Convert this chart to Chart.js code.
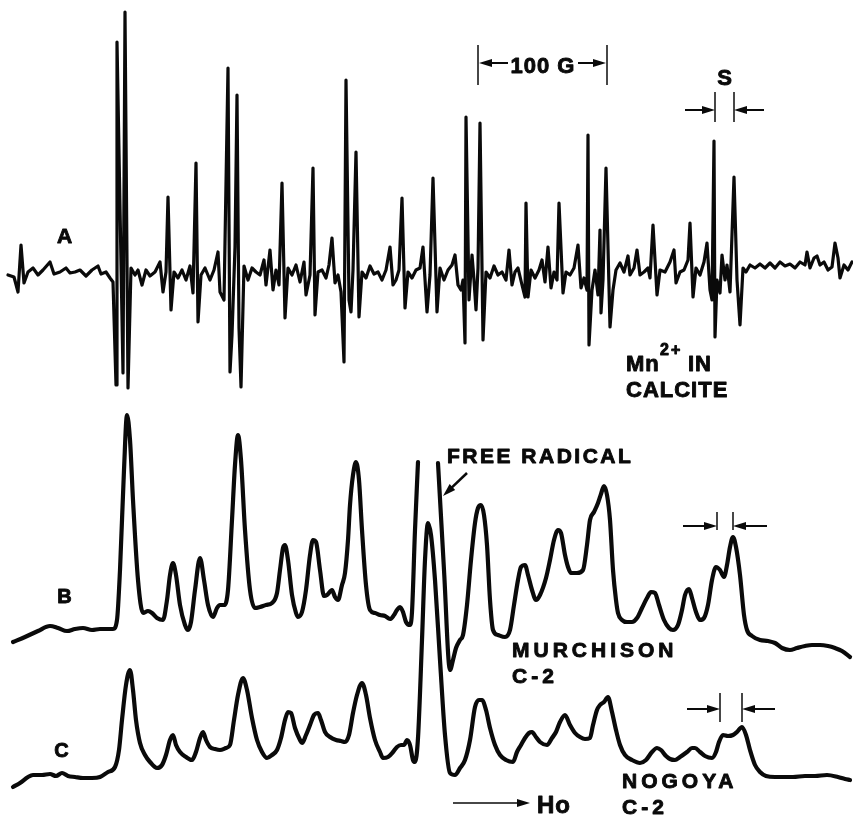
<!DOCTYPE html>
<html>
<head>
<meta charset="utf-8">
<title>EPR spectra</title>
<script src="https://cdn.jsdelivr.net/npm/chart.js@4.4.1/dist/chart.umd.min.js"></script>
<style>
  html, body { margin: 0; padding: 0; background: #fff; }
  #wrap { width: 853px; height: 816px; }
</style>
</head>
<body>
<div id="wrap"><canvas id="epr" width="853" height="816"></canvas></div>
<script>
// Field position (arbitrary units, increasing Ho) and first-derivative signal for each spectrum
const traceA = [ // Mn2+ in calcite
  [8,-3],[14,-5],[18,-20],[21,27],[24,-11],[28,0],[33,4],[38,-3],[43,2],[50,10],
  [54,-2],[60,0],[66,4],[70,-1],[75,0],[80,2],[86,-4],[92,2],[98,6],[101,-2],
  [106,0],[110,-6],[113,-10],[116,-113],[117,230],[123,-101],[125,260],[128,-116],[131,4],[135,-3],
  [138,2],[142,-13],[146,2],[150,-4],[155,0],[160,10],[163,-20],[166,0],[168,75],[171,-38],
  [174,0],[178,-6],[182,2],[186,-8],[190,6],[193,-21],[196,109],[198,-50],[201,-3],[205,4],
  [210,-8],[214,2],[218,20],[220,-20],[224,-28],[228,204],[230,-100],[232,-63],[235,25],[237,177],
  [239,-56],[241,-115],[244,6],[248,-8],[252,4],[256,0],[260,-3],[264,12],[266,-13],[270,22],
  [273,-18],[276,2],[279,-13],[282,89],[285,-46],[288,4],[292,-3],[296,7],[300,-10],[304,10],
  [306,-23],[310,-3],[313,104],[315,-43],[318,0],[322,2],[326,-6],[329,7],[332,34],[335,-11],
  [338,-3],[341,-20],[344,-90],[346,192],[349,-28],[351,-40],[353,2],[356,120],[359,-45],[362,0],
  [366,-6],[370,6],[374,-2],[378,0],[382,-8],[386,2],[390,25],[393,-13],[396,-8],[399,2],
  [402,74],[405,-36],[408,0],[412,-6],[416,2],[420,4],[423,25],[427,-40],[430,-3],[433,94],
  [437,-40],[440,4],[444,-8],[448,2],[452,7],[455,17],[458,-13],[461,-18],[463,-8],[465,-71],
  [466,155],[469,-28],[472,17],[474,-8],[476,-38],[478,4],[480,149],[483,-68],[486,0],[490,-6],
  [494,6],[498,-3],[502,0],[506,-8],[509,22],[512,-13],[515,0],[518,4],[522,-13],[525,-25],
  [526,69],[528,-25],[531,2],[535,-6],[539,2],[542,12],[545,-10],[548,25],[551,-16],[554,0],
  [557,-8],[559,69],[563,-21],[566,0],[570,-3],[574,4],[578,27],[581,-16],[584,-6],[587,-18],
  [588,137],[589,-73],[592,-18],[595,2],[598,-23],[600,42],[601,-41],[603,-8],[606,104],[610,-55],
  [613,-18],[616,2],[620,9],[624,0],[628,16],[630,-3],[634,4],[637,22],[640,-3],[644,0],
  [648,4],[650,-6],[653,47],[657,-23],[660,2],[665,0],[670,10],[674,22],[676,-11],[680,0],
  [684,2],[688,12],[690,49],[693,-25],[696,4],[700,-3],[704,10],[707,29],[710,-18],[712,-28],
  [714,131],[715,-65],[717,-8],[720,-21],[722,17],[725,-8],[727,7],[730,-20],[734,95],[737,-8],
  [740,-53],[743,4],[746,0],[750,7],[755,4],[760,8],[765,4],[770,9],[775,4],[780,10],
  [785,6],[790,8],[795,4],[800,10],[805,7],[807,20],[810,4],[814,14],[817,16],[820,7],
  [824,10],[828,2],[832,5],[835,29],[838,14],[840,-6],[844,7],[848,2],[852,10]
];

const traceB = [ // Murchison C-2
  [13,-12],[25,-7],[38,-1],[50,4],[58,2],[67,-1],[75,1],[83,2],[92,0],[100,1],
  [113,1],[117,10],[120,60],[124,160],[127,215],[130,190],[133,130],[138,50],[143,17],[148,19],
  [152,17],[157,12],[163,10],[167,30],[170,55],[173,67],[176,55],[180,25],[185,5],[188,0],
  [191,8],[195,40],[200,72],[204,50],[208,25],[213,13],[217,22],[220,25],[224,25],[228,40],
  [232,110],[235,165],[238,195],[241,170],[245,100],[250,40],[255,22],[260,23],[266,25],[272,27],
  [277,37],[280,60],[283,82],[285,85],[288,70],[292,35],[296,17],[298,13],[302,18],[306,40],
  [310,75],[313,90],[316,88],[320,60],[324,34],[327,35],[332,40],[335,33],[338,30],[342,45],
  [345,57],[348,90],[350,125],[353,155],[356,168],[359,150],[362,100],[366,45],[370,20],[375,17],
  [380,15],[385,14],[390,11],[394,15],[397,20],[400,23],[403,18],[406,8],[410,5],[412,18],
  [415,100],[418,168],[428,null],[438,167],[444,60],[450,-40],[453,-30],[456,-18],[460,-10],[463,-5],
  [467,25],[471,70],[475,107],[478,122],[481,125],[484,115],[487,85],[490,30],[493,0],[498,-5],
  [505,-7],[510,0],[514,25],[518,50],[521,63],[525,65],[528,55],[532,40],[536,30],[540,35],
  [546,52],[550,70],[554,90],[558,100],[561,97],[565,75],[568,63],[571,57],[577,57],[583,60],
  [587,85],[590,110],[594,118],[598,127],[601,136],[604,144],[607,135],[610,110],[613,60],[616,30],
  [618,17],[622,10],[627,8],[632,8],[637,12],[642,22],[647,32],[651,38],[655,37],[659,25],
  [664,10],[669,2],[673,0],[678,5],[682,20],[685,35],[689,41],[692,32],[696,18],[700,10],
  [704,12],[708,25],[712,50],[716,63],[720,60],[724,53],[727,65],[730,83],[733,93],[736,83],
  [740,55],[744,15],[747,0],[752,-6],[760,-10],[768,-11],[775,-13],[782,-18],[790,-20],[797,-18],
  [805,-16],[812,-15],[820,-15],[828,-16],[835,-18],[842,-21],[850,-27]
];

const traceC = [ // Nogoya C-2
  [13,-12],[20,-8],[28,-2],[33,0],[42,0],[50,1],[56,-1],[62,2],[68,-1],[75,-2],
  [83,-3],[92,-3],[100,-2],[108,3],[115,8],[119,25],[122,55],[126,90],[130,105],[133,85],
  [136,55],[140,32],[145,20],[150,13],[157,7],[162,10],[166,20],[170,35],[173,40],[176,30],
  [180,23],[186,18],[192,15],[196,23],[200,37],[203,43],[206,35],[210,28],[215,26],[220,25],
  [226,27],[230,30],[234,55],[238,80],[243,97],[247,85],[252,57],[257,35],[262,23],[267,17],
  [272,20],[277,25],[281,37],[285,55],[288,63],[291,62],[295,47],[300,35],[302,32],[306,40],
  [310,50],[314,60],[318,62],[321,55],[325,43],[330,38],[336,35],[341,34],[345,33],[349,40],
  [353,62],[357,80],[362,92],[366,80],[370,57],[375,35],[380,23],[383,17],[388,18],[393,23],
  [397,28],[401,30],[404,30],[407,35],[410,30],[413,15],[415,13],[418,37],[422,135],[425,215],
  [428,252],[431,240],[435,195],[440,115],[445,40],[450,2],[455,0],[460,7],[465,15],[470,35],
  [475,68],[479,75],[482,75],[486,65],[490,47],[495,30],[500,20],[506,15],[513,13],[517,23],
  [521,30],[525,37],[529,42],[532,43],[536,38],[540,33],[547,30],[552,37],[556,43],[560,53],
  [565,60],[570,50],[575,42],[580,38],[585,36],[590,37],[593,50],[597,65],[600,70],[604,73],
  [608,78],[612,63],[616,45],[620,30],[625,20],[632,15],[640,12],[646,15],[652,23],[657,27],
  [661,25],[666,19],[670,16],[675,15],[680,18],[687,23],[692,27],[695,27],[700,23],[705,19],
  [712,17],[716,23],[719,33],[723,40],[728,39],[733,40],[737,43],[742,48],[746,40],[750,25],
  [755,10],[760,3],[766,-1],[775,-2],[785,-2],[793,-2],[805,-1],[815,-1],[827,0],[838,-2],
  [845,-4],[850,-5]
];

// vertical stacking of the three spectra
const offsetA = 544;
const offsetB = 186;
const offsetC = 41;

function stack(trace, offset) {
  return trace.map(([f, s]) => ({ x: f, y: s === null ? null : offset + s }));
}

const INK = '#0a0a0a';
const FONT = '"Liberation Sans", Arial, sans-serif';

// labels, scale bars and arrows drawn on top of the traces
const labelsPlugin = {
  id: 'eprLabels',
  afterDraw(chart) {
    const ctx = chart.ctx;
    const X = v => chart.scales.x.getPixelForValue(v);
    const Y = v => chart.scales.y.getPixelForValue(v);

    ctx.save();
    ctx.fillStyle = INK;
    ctx.strokeStyle = INK;
    ctx.lineCap = 'butt';

    // heavy lettering: fill plus a thin outline
    function text(str, x, y, size, spacing, align) {
      ctx.font = '700 ' + size + 'px ' + FONT;
      ctx.textAlign = align || 'left';
      ctx.textBaseline = 'alphabetic';
      ctx.letterSpacing = (spacing || 1) + 'px';
      ctx.lineWidth = 0.9;
      ctx.lineJoin = 'round';
      ctx.fillText(str, X(x), Y(y));
      ctx.strokeText(str, X(x), Y(y));
    }
    function line(x1, y1, x2, y2, w) {
      ctx.lineWidth = w || 2;
      ctx.beginPath();
      ctx.moveTo(X(x1), Y(y1));
      ctx.lineTo(X(x2), Y(y2));
      ctx.stroke();
    }
    // shaft from (x1,y1) with a filled head at (x2,y2)
    function arrow(x1, y1, x2, y2, w) {
      const ax = X(x1), ay = Y(y1), bx = X(x2), by = Y(y2);
      const a = Math.atan2(by - ay, bx - ax);
      const len = 13, half = 4;
      ctx.lineWidth = w || 2;
      ctx.beginPath();
      ctx.moveTo(ax, ay);
      ctx.lineTo(bx - Math.cos(a) * len * 0.7, by - Math.sin(a) * len * 0.7);
      ctx.stroke();
      ctx.beginPath();
      ctx.moveTo(bx, by);
      ctx.lineTo(bx - Math.cos(a) * len - Math.sin(a) * half, by - Math.sin(a) * len + Math.cos(a) * half);
      ctx.lineTo(bx - Math.cos(a) * len + Math.sin(a) * half, by - Math.sin(a) * len - Math.cos(a) * half);
      ctx.closePath();
      ctx.fill();
    }
    // pair of marks with arrows pointing in at them
    function gap(left, right, top, bottom, mid, reach) {
      line(left, top, left, bottom, 1.5);
      line(right, top, right, bottom, 1.5);
      arrow(left - reach, mid, left, mid);
      arrow(right + reach, mid, right, mid);
    }

    // trace letters
    text('A', 65, 573, 21, 1, 'center');
    text('B', 65, 213, 20, 1, 'center');
    text('C', 62, 59, 20, 1, 'center');

    // 100 G field scale
    line(478, 771, 478, 731, 1.5);
    line(607, 771, 607, 731, 1.5);
    text('100 G', 543, 743, 22, 1, 'center');
    arrow(508, 753, 479, 753);
    arrow(578, 753, 606, 753);

    // S splitting
    text('S', 725, 731, 22, 1, 'center');
    gap(715, 734, 724, 694, 706, 30);

    // Mn2+ in calcite
    text('Mn', 626, 445, 22, 1);
    text('2+', 660, 461, 16, 2);
    text('IN', 688, 445, 22, 1);
    text('CALCITE', 626, 419, 22, 1);

    // free radical line
    text('FREE RADICAL', 447, 353, 21, 2.5);
    arrow(467, 343, 443, 320, 2.5);

    // sample names
    text('MURCHISON', 512, 159, 21, 4);
    text('C-2', 512, 133, 21, 4);
    text('NOGOYA', 622, 28, 21, 4);
    text('C-2', 622, 2, 21, 4);

    // splitting marks on B and C
    gap(717, 733, 304, 286, 290, 34);
    gap(720, 742, 123, 94, 107, 33);

    // field direction
    arrow(453, 13, 530, 13, 1.5);
    text('Ho', 537, 3, 24, 1);

    ctx.restore();
  }
};

function series(trace, offset, width, smooth) {
  return {
    data: stack(trace, offset),
    borderColor: INK,
    borderWidth: width,
    borderJoinStyle: 'round',
    borderCapStyle: 'round',
    pointRadius: 0,
    fill: false,
    spanGaps: false,
    tension: 0,
    cubicInterpolationMode: smooth ? 'monotone' : 'default'
  };
}

new Chart(document.getElementById('epr'), {
  type: 'line',
  data: {
    datasets: [
      series(traceA, offsetA, 3.2, false),
      series(traceB, offsetB, 4.2, true),
      series(traceC, offsetC, 4.2, true)
    ]
  },
  options: {
    responsive: false,
    animation: false,
    layout: { padding: 0 },
    plugins: { legend: { display: false }, tooltip: { enabled: false } },
    scales: {
      x: { type: 'linear', min: 0, max: 853, display: false },
      y: { type: 'linear', min: 0, max: 816, display: false }
    }
  },
  plugins: [labelsPlugin]
});
</script>
</body>
</html>
